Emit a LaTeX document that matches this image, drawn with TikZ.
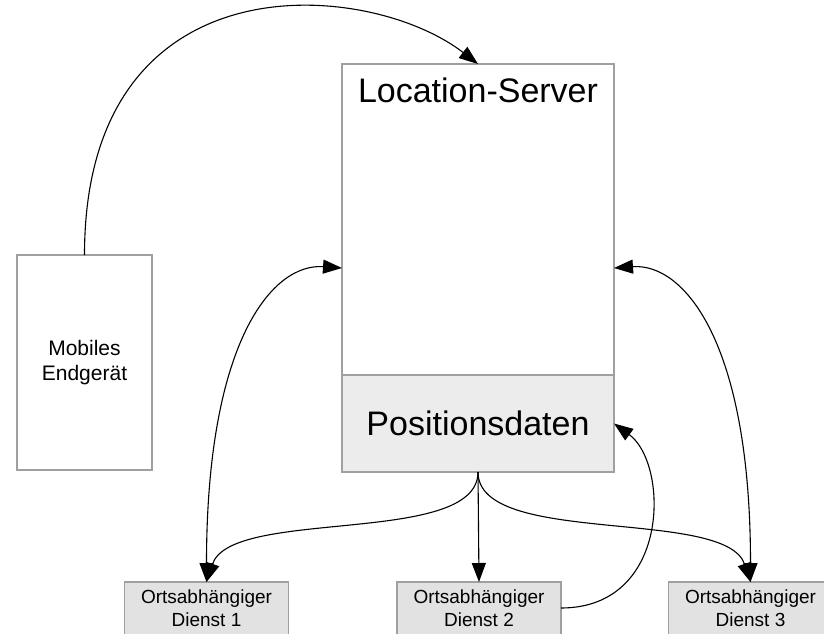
\documentclass[tikz,border=0pt]{standalone}
\usepackage{fontspec}
\setmainfont{Liberation Sans}
\usetikzlibrary{arrows.meta}
\definecolor{boxline}{HTML}{A0A0A0}
\definecolor{datafill}{HTML}{ECECEC}
\definecolor{svcfill}{HTML}{E2E2E2}

\begin{document}
\begin{tikzpicture}[x=1pt,y=-1pt,
  box/.style={draw=boxline, line width=1.4pt, rectangle, inner sep=0pt, outer sep=0pt},
  link/.style={line width=1.1pt, -{Triangle[length=19pt,width=14pt]}},
  twoway/.style={line width=1.1pt, {Triangle[length=19pt,width=14pt]}-{Triangle[length=19pt,width=14pt]}},
  service/.style={box, fill=svcfill, minimum width=164pt, minimum height=60pt,
    text depth=8pt, align=center, font=\fontsize{19}{23}\selectfont},
  bigtext/.style={font=\fontsize{34}{40}\selectfont}
]
\useasboundingbox (0,0) rectangle (824,633);
\clip (0,0) rectangle (824,633);
\fill[white] (0,0) rectangle (824,633);

% mobile device
\node[box, fill=white, minimum width=135pt, minimum height=215pt, align=center,
      font=\fontsize{21}{25}\selectfont] (mob) at (84.5,362.5) {Mobiles\\Endgerät};

% location server with its position data store
\node[box, fill=white, minimum width=272pt, minimum height=408pt] (ls) at (478,268) {};
\node[bigtext, anchor=base] (lstitle) at (478,102) {Location-Server};
\node[box, fill=datafill, minimum width=272pt, minimum height=97pt, bigtext] (pos) at (478,423.5) {Positionsdaten};

% location-based services (their lower edge runs past the page)
\node[service] (s1) at (206.5,612) {Ortsabhängiger\\Dienst 1};
\node[service] (s2) at (479,612) {Ortsabhängiger\\Dienst 2};
\node[service] (s3) at (750.5,612) {Ortsabhängiger\\Dienst 3};

% connectors
\draw[link] (mob.north) .. controls +(0,-300) and +(-110,-85) .. (ls.north);
\draw[twoway] (s1.north) .. controls +(0,-240) and +(-70,-5) .. (ls.west);
\draw[twoway] (s3.north) .. controls +(0,-240) and +(70,-5) .. (ls.east);
\draw[link] (pos.south) -- (s2.north);
\draw[link] (pos.south) .. controls +(0,75) and +(25,-75) .. (s1.north);
\draw[link] (pos.south) .. controls +(0,75) and +(-25,-75) .. (s3.north);
\draw[link] ([yshift=4pt]s2.east) .. controls +(110,0) and +(55,40) .. (pos.east);
\end{tikzpicture}
\end{document}
